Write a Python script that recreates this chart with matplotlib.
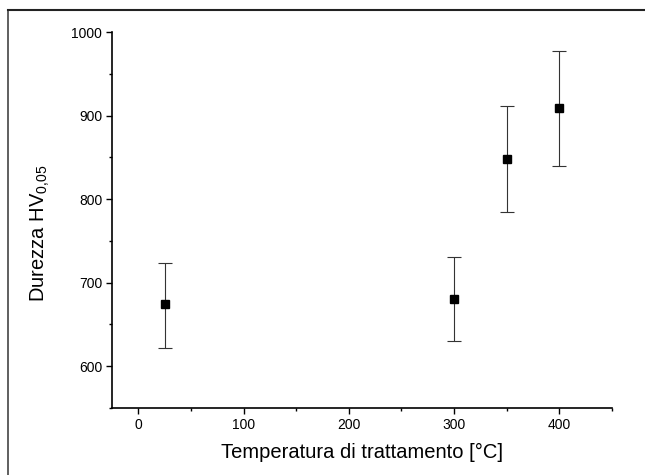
import matplotlib
matplotlib.use("Agg")
import matplotlib.pyplot as plt
from matplotlib.ticker import MultipleLocator
from matplotlib.lines import Line2D

plt.rcParams['font.family'] = ['Liberation Sans', 'DejaVu Sans']
plt.rcParams['mathtext.default'] = 'regular'

# data
temperature = [25, 300, 350, 400]
hardness = [674, 681, 848, 909]
err_low = [52, 51, 64, 69]
err_high = [50, 50, 63, 68]

fig = plt.figure(figsize=(6.45, 4.75), dpi=100)
ax = fig.add_axes([112 / 645, 1 - 408 / 475, 500 / 645, 376 / 475])

ax.errorbar(temperature, hardness, yerr=[err_low, err_high], fmt='s',
            color='black', ms=5.5, ecolor='#333333', elinewidth=0.8,
            capsize=4.7, capthick=0.8)

ax.set_xlim(-25, 450)
ax.set_ylim(550, 1000)
ax.xaxis.set_major_locator(MultipleLocator(100))
ax.xaxis.set_minor_locator(MultipleLocator(50))
ax.yaxis.set_major_locator(MultipleLocator(100))
ax.yaxis.set_minor_locator(MultipleLocator(50))
ax.set_yticks([600, 700, 800, 900, 1000])

for s in ['top', 'right']:
    ax.spines[s].set_visible(False)
for s in ['left', 'bottom']:
    ax.spines[s].set_linewidth(1.2)

ax.tick_params(which='major', direction='out', length=4, width=1, labelsize=10, pad=3)
ax.tick_params(which='minor', direction='out', length=2.5, width=1)

ax.set_xlabel('Temperatura di trattamento [°C]', fontsize=14.5, labelpad=8)
ax.set_ylabel('Durezza HV$_{0{,}05}$', fontsize=14.5, labelpad=14)
ax.yaxis.label.set_y(0.465)

# frame edges of the scanned page
fig.add_artist(Line2D([8 / 645, 8 / 645], [0, 1 - 10 / 475], color='#444444', lw=1.2))
fig.add_artist(Line2D([8 / 645, 1], [1 - 10 / 475, 1 - 10 / 475], color='#222222', lw=1.5))

fig.savefig('out.png', dpi=100)
